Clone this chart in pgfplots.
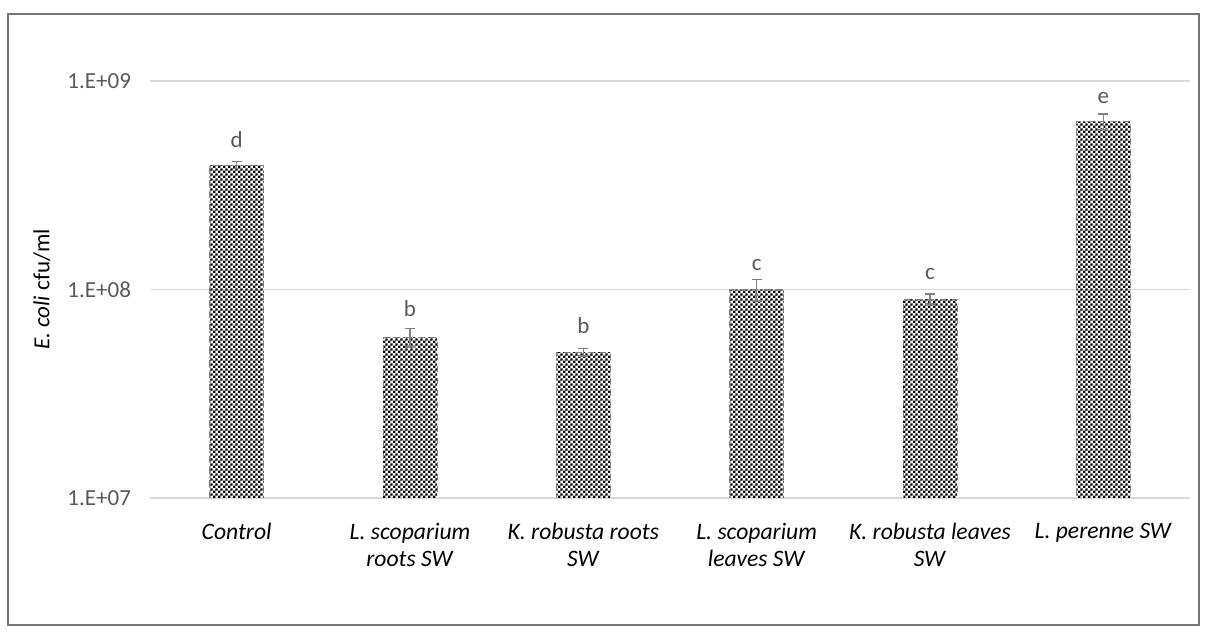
\documentclass[border=0pt]{standalone}
\usepackage{pgfplots}
\pgfplotsset{compat=1.18}
\usepackage{fontspec}
\setmainfont{Carlito}
\usetikzlibrary{patterns}
\definecolor{txtgray}{HTML}{595959}
\definecolor{gridgray}{HTML}{D9D9D9}
\definecolor{framegray}{HTML}{767676}
\definecolor{errgray}{HTML}{7F7F7F}
\pgfdeclarepatternformonly{mydots}{\pgfpointorigin}{\pgfpoint{2.6pt}{2.6pt}}{\pgfpoint{2.6pt}{2.6pt}}{%
  \pgfpathrectangle{\pgfpoint{0pt}{0pt}}{\pgfpoint{1.3pt}{1.3pt}}%
  \pgfpathrectangle{\pgfpoint{1.3pt}{1.3pt}}{\pgfpoint{1.3pt}{1.3pt}}%
  \pgfusepath{fill}}
\begin{document}
\begin{tikzpicture}
\path[use as bounding box] (0,0) rectangle (604pt,316pt);
\draw[framegray, line width=0.8pt] (4pt,3.5pt) rectangle (599.5pt,309pt);
\begin{axis}[
  at={(75pt,67pt)}, anchor=south west,
  scale only axis, width=520pt, height=208.5pt,
  ymode=log, ymin=1e7, ymax=1e9, log origin y=infty,
  xmin=-0.5, xmax=5.5,
  ytick={1e7,1e8,1e9},
  minor ytick={},
  minor tick length=0pt,
  tick style={draw=none},
  yticklabels={1.E+07,1.E+08,1.E+09},
  yticklabel style={text=txtgray, font=\fontsize{11.5}{13}\selectfont, xshift=-6pt},
  xtick={0,1,2,3,4,5},
  xticklabels={{\textit{Control}},{\textit{L. scoparium}\\\textit{roots SW}},{\textit{K. robusta roots}\\\textit{SW}},{\textit{L. scoparium}\\\textit{leaves SW}},{\textit{K. robusta leaves}\\\textit{SW}},{\textit{L. perenne SW}}},
  xticklabel style={align=center, font=\fontsize{11.8}{13.5}\selectfont, text=black, yshift=-9pt},
  axis line style={draw=none},
  axis x line*=bottom,
  x axis line style={draw=gridgray, line width=0.6pt},
  major tick length=0pt,
  ymajorgrids, grid style={gridgray, line width=0.6pt},
  ylabel={\textit{E. coli} cfu/ml},
  ylabel style={at={(axis description cs:-0.104,0.5)}, anchor=center, font=\fontsize{11.5}{13}\selectfont},
  /pgf/number format/assume math mode=true,
]
\addplot[ybar, bar width=27pt, draw=gray, dashed, line width=0.3pt, pattern=mydots, pattern color=black,
  error bars/.cd, y dir=both, y explicit, error mark options={errgray, line width=0.7pt, mark size=2.5pt, rotate=90, solid},
  error bar style={errgray, line width=0.7pt, solid}]
 coordinates {
 (0,3.95e8) +- (0,1.5e7)
 (1,5.9e7) +- (0,6e6)
 (2,5.0e7) +- (0,2e6)
 (3,1.0e8) +- (0,1.2e7)
 (4,9.0e7) +- (0,5e6)
 (5,6.4e8) +- (0,5.5e7)
 };
\addplot[only marks, mark=none, nodes near coords, point meta=explicit symbolic,
  every node near coord/.append style={anchor=base, text=txtgray, font=\fontsize{11.5}{13}\selectfont}]
 table[meta=l] {
 x y l
 0 4.82e8 d
 1 7.41e7 b
 2 6.15e7 b
 3 1.23e8 c
 4 1.12e8 c
 5 7.84e8 e
 };
\end{axis}
\end{tikzpicture}
\end{document}
